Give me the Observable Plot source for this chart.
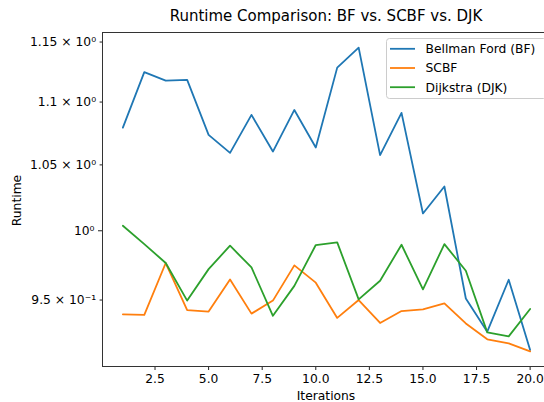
<!DOCTYPE html>
<html><head><meta charset="utf-8">
<script src="https://cdn.jsdelivr.net/npm/d3@7"></script>
<script src="https://cdn.jsdelivr.net/npm/@observablehq/plot@0.6"></script>
<style>
html,body{margin:0;padding:0;background:#fff;overflow:hidden;width:544px;height:402px}
#chart{width:544px;height:402px;overflow:hidden}
#chart svg{max-width:none !important;display:block}
</style>
</head><body>
<div id="chart"></div>
<script>
const iterations = [1,2,3,4,5,6,7,8,9,10,11,12,13,14,15,16,17,18,19,20];
const bellmanFord = [1.0794,1.1246,1.1176,1.1182,1.0736,1.0594,1.0896,1.0604,1.0936,1.0636,1.1284,1.1452,1.0576,1.0912,1.0129,1.0333,0.9511,0.9280,0.9644,0.9155];
const scbf = [0.9400,0.9396,0.9764,0.9430,0.9419,0.9646,0.9405,0.9496,0.9747,0.9623,0.9375,0.9500,0.9340,0.9423,0.9435,0.9477,0.9337,0.9228,0.9200,0.9146];
const dijkstra = [1.0037,0.9902,0.9764,0.9496,0.9720,0.9890,0.9732,0.9390,0.9600,0.9895,0.9914,0.9505,0.9637,0.9897,0.9575,0.9902,0.9708,0.9275,0.9248,0.9437];
const seriesNames = ["Bellman Ford (BF)", "SCBF", "Dijkstra (DJK)"];
const seriesColors = ["#1f77b4", "#ff7f0e", "#2ca02c"];
const xTicks = [2.5,5.0,7.5,10.0,12.5,15.0,17.5,20.0];
const yMinorTicks = [0.95,1.05,1.1,1.15];
const yMajorTicks = [1];
const yTickValues = [0.95,1,1.05,1.1,1.15];
const yTickLabels = ["9.5 × 10⁻¹","10⁰","1.05 × 10⁰","1.1 × 10⁰","1.15 × 10⁰"];
const titleText = "Runtime Comparison: BF vs. SCBF vs. DJK";
const xLabel = "Iterations";
const yLabel = "Runtime";

const allSeries = [bellmanFord, scbf, dijkstra];
const rows = allSeries.map((vals, s) => iterations.map((it, i) => ({x: it, y: vals[i], s})));

// matplotlib-like 5% margins (log space for y)
const allY = allSeries.flat();
const lnMin = Math.log(d3.min(allY)), lnMax = Math.log(d3.max(allY));
const padY = (lnMax - lnMin) * 0.05;
const yDomain = [Math.exp(lnMin - padY), Math.exp(lnMax + padY)];
const xMin = d3.min(iterations), xMax = d3.max(iterations);
const padX = (xMax - xMin) * 0.05;
const xDomain = [xMin - padX, xMax + padX];

const fmtY = d => yTickLabels[yTickValues.findIndex(v => Math.abs(v - d) < 1e-9)];

const W = 552, H = 402, mL = 102, mR = 2, mT = 32, mB = 36;
const fs = "12.3px";
const chart = Plot.plot({
  width: W, height: H,
  marginTop: mT, marginBottom: mB, marginLeft: mL, marginRight: mR,
  style: {fontFamily: "DejaVu Sans, sans-serif", fontSize: fs, color: "#000", background: "#fff", maxWidth: "none"},
  x: {domain: xDomain},
  y: {type: "log", domain: yDomain},
  marks: [
    Plot.axisX({ticks: xTicks, tickFormat: d => d.toFixed(1), tickSize: 4, tickPadding: 4, label: null, stroke: "#222"}),
    Plot.axisY({ticks: yMinorTicks, tickFormat: fmtY, tickSize: 2.4, tickPadding: 4, label: null, stroke: "#222"}),
    Plot.axisY({ticks: yMajorTicks, tickFormat: fmtY, tickSize: 4, tickPadding: 4, label: null, stroke: "#222"}),
    ...rows.map((r, s) => Plot.line(r, {x: "x", y: "y", stroke: seriesColors[s], strokeWidth: 1.8})),
    Plot.frame({stroke: "#333", strokeWidth: 1})
  ]
});
document.getElementById("chart").appendChild(chart);

const svg = d3.select(chart);
const cx = (mL + (W - mR)) / 2;
const font = "DejaVu Sans, sans-serif";
svg.append("text").attr("x", cx).attr("y", 21).attr("text-anchor", "middle")
  .attr("font-family", font).attr("font-size", "15px").attr("fill", "#000").text(titleText);
svg.append("text").attr("x", cx).attr("y", 399.5).attr("text-anchor", "middle")
  .attr("font-family", font).attr("font-size", fs).attr("fill", "#000").text(xLabel);
svg.append("text").attr("transform", `translate(20.5,${(mT + H - mB) / 2 + 1.5}) rotate(-90)`).attr("text-anchor", "middle")
  .attr("font-family", font).attr("font-size", fs).attr("fill", "#000").text(yLabel);

// legend
const lg = svg.append("g").attr("text-anchor", "start");
lg.append("rect").attr("x", 386.5).attr("y", 38.5).attr("width", 160).attr("height", 60).attr("rx", 3)
  .attr("fill", "#fff").attr("fill-opacity", 0.8).attr("stroke", "#cccccc").attr("stroke-width", 1);
seriesNames.forEach((name, i) => {
  const yy = 48.8 + i * 19.2;
  lg.append("line").attr("x1", 390).attr("x2", 415).attr("y1", yy).attr("y2", yy)
    .attr("stroke", seriesColors[i]).attr("stroke-width", 1.8);
  lg.append("text").attr("x", 425.5).attr("y", yy).attr("dy", "0.36em").attr("text-anchor", "start")
    .attr("font-family", font).attr("font-size", fs).attr("fill", "#000").text(name);
});
</script>
</body></html>
